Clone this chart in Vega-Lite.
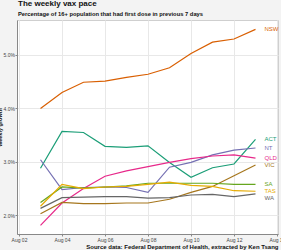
{
  "$schema": "https://vega.github.io/schema/vega-lite/v6.json",
  "autosize": {"type": "none"},
  "width": 261,
  "height": 214,
  "padding": {"left": 17, "top": 20, "right": 3, "bottom": 16},
  "background": "#f3f3f3",
  "title": {
    "text": "The weekly vax pace",
    "subtitle": "Percentage of 16+ population that had first dose in previous 7 days",
    "anchor": "start",
    "frame": "group",
    "font": "Liberation Sans",
    "fontSize": 8,
    "fontWeight": "bold",
    "color": "#111",
    "subtitleFont": "Liberation Sans",
    "subtitleFontSize": 5.8,
    "subtitleFontWeight": "bold",
    "subtitleColor": "#111",
    "subtitlePadding": 2.5,
    "offset": 3.5,
    "dx": 1
  },
  "config": {
    "view": {"fill": "white", "stroke": "#cfcfcf"},
    "font": "Liberation Sans",
    "axis": {
      "gridColor": "#e8e8e8",
      "domainColor": "#888",
      "tickColor": "#888",
      "labelColor": "#444",
      "labelFontSize": 5,
      "labelFont": "Liberation Sans"
    }
  },
  "data": {
    "values": [
      {"state": "NSW", "date": "2021-08-03T00:00:00", "value": 4.00},
      {"state": "NSW", "date": "2021-08-04T00:00:00", "value": 4.30},
      {"state": "NSW", "date": "2021-08-05T00:00:00", "value": 4.49},
      {"state": "NSW", "date": "2021-08-06T00:00:00", "value": 4.51},
      {"state": "NSW", "date": "2021-08-07T00:00:00", "value": 4.58},
      {"state": "NSW", "date": "2021-08-08T00:00:00", "value": 4.64},
      {"state": "NSW", "date": "2021-08-09T00:00:00", "value": 4.76},
      {"state": "NSW", "date": "2021-08-10T00:00:00", "value": 5.03},
      {"state": "NSW", "date": "2021-08-11T00:00:00", "value": 5.24},
      {"state": "NSW", "date": "2021-08-12T00:00:00", "value": 5.30},
      {"state": "NSW", "date": "2021-08-13T00:00:00", "value": 5.48},
      {"state": "ACT", "date": "2021-08-03T00:00:00", "value": 2.88},
      {"state": "ACT", "date": "2021-08-04T00:00:00", "value": 3.57},
      {"state": "ACT", "date": "2021-08-05T00:00:00", "value": 3.55},
      {"state": "ACT", "date": "2021-08-06T00:00:00", "value": 3.29},
      {"state": "ACT", "date": "2021-08-07T00:00:00", "value": 3.27},
      {"state": "ACT", "date": "2021-08-08T00:00:00", "value": 3.30},
      {"state": "ACT", "date": "2021-08-09T00:00:00", "value": 2.99},
      {"state": "ACT", "date": "2021-08-10T00:00:00", "value": 2.71},
      {"state": "ACT", "date": "2021-08-11T00:00:00", "value": 2.89},
      {"state": "ACT", "date": "2021-08-12T00:00:00", "value": 2.96},
      {"state": "ACT", "date": "2021-08-13T00:00:00", "value": 3.42},
      {"state": "NT", "date": "2021-08-03T00:00:00", "value": 3.04},
      {"state": "NT", "date": "2021-08-04T00:00:00", "value": 2.48},
      {"state": "NT", "date": "2021-08-05T00:00:00", "value": 2.52},
      {"state": "NT", "date": "2021-08-06T00:00:00", "value": 2.53},
      {"state": "NT", "date": "2021-08-07T00:00:00", "value": 2.52},
      {"state": "NT", "date": "2021-08-08T00:00:00", "value": 2.43},
      {"state": "NT", "date": "2021-08-09T00:00:00", "value": 2.90},
      {"state": "NT", "date": "2021-08-10T00:00:00", "value": 2.99},
      {"state": "NT", "date": "2021-08-11T00:00:00", "value": 3.13},
      {"state": "NT", "date": "2021-08-12T00:00:00", "value": 3.22},
      {"state": "NT", "date": "2021-08-13T00:00:00", "value": 3.26},
      {"state": "QLD", "date": "2021-08-03T00:00:00", "value": 1.81},
      {"state": "QLD", "date": "2021-08-04T00:00:00", "value": 2.23},
      {"state": "QLD", "date": "2021-08-05T00:00:00", "value": 2.50},
      {"state": "QLD", "date": "2021-08-06T00:00:00", "value": 2.73},
      {"state": "QLD", "date": "2021-08-07T00:00:00", "value": 2.83},
      {"state": "QLD", "date": "2021-08-08T00:00:00", "value": 2.91},
      {"state": "QLD", "date": "2021-08-09T00:00:00", "value": 2.99},
      {"state": "QLD", "date": "2021-08-10T00:00:00", "value": 3.06},
      {"state": "QLD", "date": "2021-08-11T00:00:00", "value": 3.11},
      {"state": "QLD", "date": "2021-08-12T00:00:00", "value": 3.13},
      {"state": "QLD", "date": "2021-08-13T00:00:00", "value": 3.07},
      {"state": "VIC", "date": "2021-08-03T00:00:00", "value": 2.03},
      {"state": "VIC", "date": "2021-08-04T00:00:00", "value": 2.24},
      {"state": "VIC", "date": "2021-08-05T00:00:00", "value": 2.22},
      {"state": "VIC", "date": "2021-08-06T00:00:00", "value": 2.22},
      {"state": "VIC", "date": "2021-08-07T00:00:00", "value": 2.23},
      {"state": "VIC", "date": "2021-08-08T00:00:00", "value": 2.23},
      {"state": "VIC", "date": "2021-08-09T00:00:00", "value": 2.30},
      {"state": "VIC", "date": "2021-08-10T00:00:00", "value": 2.43},
      {"state": "VIC", "date": "2021-08-11T00:00:00", "value": 2.54},
      {"state": "VIC", "date": "2021-08-12T00:00:00", "value": 2.74},
      {"state": "VIC", "date": "2021-08-13T00:00:00", "value": 2.94},
      {"state": "SA", "date": "2021-08-03T00:00:00", "value": 2.24},
      {"state": "SA", "date": "2021-08-04T00:00:00", "value": 2.53},
      {"state": "SA", "date": "2021-08-05T00:00:00", "value": 2.51},
      {"state": "SA", "date": "2021-08-06T00:00:00", "value": 2.53},
      {"state": "SA", "date": "2021-08-07T00:00:00", "value": 2.55},
      {"state": "SA", "date": "2021-08-08T00:00:00", "value": 2.60},
      {"state": "SA", "date": "2021-08-09T00:00:00", "value": 2.60},
      {"state": "SA", "date": "2021-08-10T00:00:00", "value": 2.60},
      {"state": "SA", "date": "2021-08-11T00:00:00", "value": 2.60},
      {"state": "SA", "date": "2021-08-12T00:00:00", "value": 2.58},
      {"state": "SA", "date": "2021-08-13T00:00:00", "value": 2.58},
      {"state": "TAS", "date": "2021-08-03T00:00:00", "value": 2.17},
      {"state": "TAS", "date": "2021-08-04T00:00:00", "value": 2.58},
      {"state": "TAS", "date": "2021-08-05T00:00:00", "value": 2.50},
      {"state": "TAS", "date": "2021-08-06T00:00:00", "value": 2.53},
      {"state": "TAS", "date": "2021-08-07T00:00:00", "value": 2.54},
      {"state": "TAS", "date": "2021-08-08T00:00:00", "value": 2.58},
      {"state": "TAS", "date": "2021-08-09T00:00:00", "value": 2.62},
      {"state": "TAS", "date": "2021-08-10T00:00:00", "value": 2.56},
      {"state": "TAS", "date": "2021-08-11T00:00:00", "value": 2.54},
      {"state": "TAS", "date": "2021-08-12T00:00:00", "value": 2.46},
      {"state": "TAS", "date": "2021-08-13T00:00:00", "value": 2.45},
      {"state": "WA", "date": "2021-08-03T00:00:00", "value": 2.13},
      {"state": "WA", "date": "2021-08-04T00:00:00", "value": 2.33},
      {"state": "WA", "date": "2021-08-05T00:00:00", "value": 2.34},
      {"state": "WA", "date": "2021-08-06T00:00:00", "value": 2.35},
      {"state": "WA", "date": "2021-08-07T00:00:00", "value": 2.35},
      {"state": "WA", "date": "2021-08-08T00:00:00", "value": 2.32},
      {"state": "WA", "date": "2021-08-09T00:00:00", "value": 2.33},
      {"state": "WA", "date": "2021-08-10T00:00:00", "value": 2.38},
      {"state": "WA", "date": "2021-08-11T00:00:00", "value": 2.39},
      {"state": "WA", "date": "2021-08-12T00:00:00", "value": 2.35},
      {"state": "WA", "date": "2021-08-13T00:00:00", "value": 2.40}
    ]
  },
  "encoding": {
    "x": {
      "field": "date",
      "type": "temporal",
      "scale": {
        "domain": [
          {"year": 2021, "month": 8, "date": 1, "hours": 21, "minutes": 46},
          {"year": 2021, "month": 8, "date": 14, "hours": 1, "minutes": 7}
        ]
      },
      "axis": {
        "values": [
          {"year": 2021, "month": 8, "date": 2},
          {"year": 2021, "month": 8, "date": 4},
          {"year": 2021, "month": 8, "date": 6},
          {"year": 2021, "month": 8, "date": 8},
          {"year": 2021, "month": 8, "date": 10},
          {"year": 2021, "month": 8, "date": 12},
          {"year": 2021, "month": 8, "date": 14}
        ],
        "format": "%b %d",
        "tickSize": 2,
        "labelPadding": 1,
        "labelOverlap": false,
        "labelFlush": false,
        "title": "Source data: Federal Department of Health, extracted by Ken Tsang",
        "titleAnchor": "end",
        "titleFontSize": 6,
        "titleFontWeight": "bold",
        "titleFont": "Liberation Sans",
        "titleColor": "#111",
        "titlePadding": 1
      }
    },
    "y": {
      "field": "value",
      "type": "quantitative",
      "scale": {"domain": [1.65, 5.655], "nice": false, "zero": false},
      "axis": {
        "values": [2, 3, 4, 5],
        "labelExpr": "format(datum.value, '.1f') + '%'",
        "tickSize": 2,
        "labelPadding": 0.5,
        "title": "Weekly growth",
        "titleFontSize": 5.5,
        "titleFontWeight": "bold",
        "titleFont": "Liberation Sans",
        "titleColor": "#111",
        "titlePadding": 0.5
      }
    },
    "color": {
      "field": "state",
      "type": "nominal",
      "scale": {
        "domain": ["ACT", "NSW", "NT", "QLD", "SA", "TAS", "VIC", "WA"],
        "range": ["#1b9e77", "#d95f02", "#7570b3", "#e7298a", "#66a61e", "#e6ab02", "#a6761d", "#666666"]
      },
      "legend": null
    }
  },
  "layer": [
    {
      "mark": {"type": "line", "strokeWidth": 1.2},
      "encoding": {"detail": {"field": "state"}}
    },
    {
      "transform": [
        {"filter": {"field": "date", "equal": {"year": 2021, "month": 8, "date": 13}}},
        {"filter": "datum.state != 'WA'"}
      ],
      "mark": {"type": "text", "align": "left", "baseline": "middle", "dx": 9, "fontSize": 6, "font": "Liberation Sans"},
      "encoding": {"text": {"field": "state"}}
    },
    {
      "transform": [
        {"filter": {"field": "date", "equal": {"year": 2021, "month": 8, "date": 13}}},
        {"filter": "datum.state == 'WA'"}
      ],
      "mark": {"type": "text", "align": "left", "baseline": "middle", "dx": 9, "dy": 4, "fontSize": 6, "font": "Liberation Sans"},
      "encoding": {"text": {"field": "state"}}
    }
  ]
}
